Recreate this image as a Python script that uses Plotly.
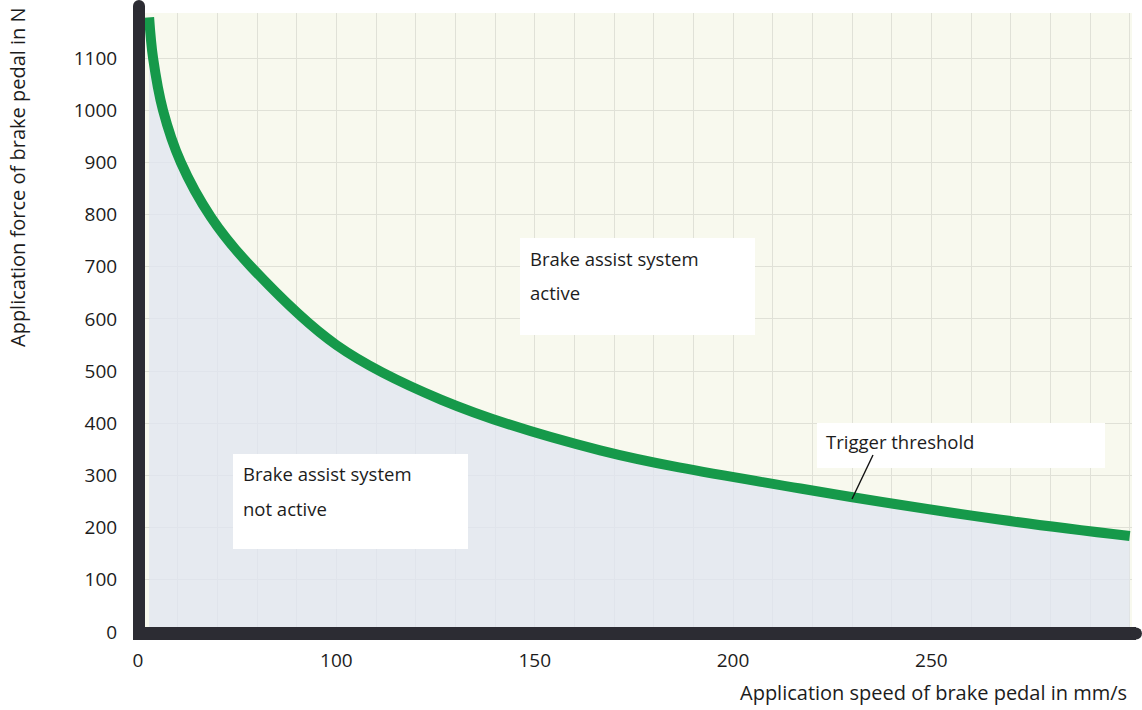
import plotly.graph_objects as go

# Trigger threshold curve: pedal speed (axis units) vs. application force (N)
speed = [52.8, 53.8, 56.3, 60.8, 68.4, 78.5, 100, 126.5, 166.5, 217, 267.5, 300]
force = [1178, 1100, 1000, 900, 795, 700, 550, 445, 348, 275, 215, 184]

x_tickvals = [50, 100, 150, 200, 250]
x_ticktext = ["0", "100", "150", "200", "250"]
y_tickvals = [0, 100, 200, 300, 400, 500, 600, 700, 800, 900, 1000, 1100]

FONT = "Open Sans"
TXT = "#1c1c1c"
AXIS = "#2c2c33"
GREEN = "#16994a"
GRID = "#e0e1d7"

# canvas geometry (pixels)
W_FIG, H_FIG = 1142, 710
L, R, T, B = 138, 1132, 13, 632
PW, PH = R - L, B - T


def px(x):
    return (x - L) / PW


def py(y):
    return (B - y) / PH


fig = go.Figure()

fig.add_trace(go.Scatter(
    x=speed, y=force,
    mode="lines",
    line=dict(color=GREEN, width=10, shape="spline", smoothing=1.0),
    fill="tozeroy",
    fillcolor="rgba(224,229,240,0.76)",
    hoverinfo="skip",
    showlegend=False,
))

shapes = []
# heavy axis bars
shapes.append(dict(type="line", xref="paper", yref="paper",
                   x0=px(139), x1=px(139), y0=py(639), y1=py(6),
                   line=dict(color=AXIS, width=12)))
shapes.append(dict(type="line", xref="paper", yref="paper",
                   x0=px(133), x1=px(1136), y0=py(633.5), y1=py(633.5),
                   line=dict(color=AXIS, width=13)))
# rounded ends of the axis bars
for cx, cy in [(139, 6), (1136, 633.5)]:
    shapes.append(dict(type="circle", xref="paper", yref="paper",
                       x0=px(cx - 6), x1=px(cx + 6), y0=py(cy - 6), y1=py(cy + 6),
                       fillcolor=AXIS, line=dict(width=0)))

# white label boxes
boxes = [(520, 238, 755, 335), (233, 454, 468, 549), (817, 423, 1105, 468)]
for x0, y0, x1, y1 in boxes:
    shapes.append(dict(type="rect", xref="paper", yref="paper",
                       x0=px(x0), x1=px(x1), y0=py(y1), y1=py(y0),
                       fillcolor="white", line=dict(width=0), layer="above"))

# pointer for the threshold label
shapes.append(dict(type="line", xref="paper", yref="paper",
                   x0=px(873), y0=py(455), x1=px(852), y1=py(499),
                   line=dict(color="#111111", width=1.4), layer="above"))

annotations = []


def label(text, x, y, size=18.5, xanchor="left", angle=0, yanchor="middle"):
    annotations.append(dict(
        text=text, xref="paper", yref="paper", x=px(x), y=py(y),
        xanchor=xanchor, yanchor=yanchor, showarrow=False, textangle=angle,
        font=dict(family=FONT, size=size, color=TXT),
    ))


label("Brake assist system", 528, 258)
label("active", 528, 292)
label("Brake assist system", 241, 473)
label("not active", 241, 508)
label("Trigger threshold", 824, 441)
label("Application speed of brake pedal in mm/s", 1129, 693, size=20,
      xanchor="right")
label("Application force of brake pedal in N", 18, 5, size=20,
      xanchor="center", angle=-90, yanchor="top")

fig.update_layout(
    width=W_FIG, height=H_FIG,
    margin=dict(l=L, r=W_FIG - R, t=T, b=H_FIG - B, pad=0),
    paper_bgcolor="white",
    plot_bgcolor="#f8f9ee",
    shapes=shapes,
    annotations=annotations,
    font=dict(family=FONT, size=19, color=TXT),
    xaxis=dict(
        range=[50, 50 + PW / 3.967],
        tickvals=x_tickvals, ticktext=x_ticktext,
        showgrid=True, gridcolor=GRID, gridwidth=1.3,
        minor=dict(tick0=0, dtick=10, showgrid=True, gridcolor=GRID,
                   gridwidth=1.3),
        ticks="outside", ticklen=11, tickcolor="rgba(0,0,0,0)",
        showline=False, zeroline=False,
        tickfont=dict(family=FONT, size=19, color=TXT),
    ),
    yaxis=dict(
        range=[0, PH / 0.5218],
        tickvals=y_tickvals,
        showgrid=True, gridcolor=GRID, gridwidth=1.3,
        ticks="outside", ticklen=16, tickcolor="rgba(0,0,0,0)",
        showline=False, zeroline=False,
        tickfont=dict(family=FONT, size=19, color=TXT),
    ),
)

fig.write_html("out.html")
